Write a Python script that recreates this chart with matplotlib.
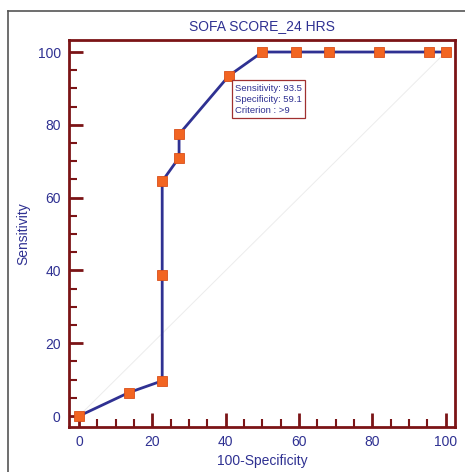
import matplotlib
matplotlib.use("Agg")
import matplotlib.pyplot as plt
from matplotlib.lines import Line2D
from matplotlib.ticker import MultipleLocator

# ROC points (100-Specificity, Sensitivity)
fpr = [0, 13.6, 22.7, 22.7, 22.7, 27.3, 27.3, 40.9, 50.0, 59.1, 68.2, 81.8, 95.5, 100]
sens = [0, 6.45, 9.68, 38.7, 64.5, 71.0, 77.4, 93.5, 100, 100, 100, 100, 100, 100]

title = "SOFA SCORE_24 HRS"
box_text = "Sensitivity: 93.5\nSpecificity: 59.1\nCriterion : >9"

blue = "#2f3192"
red = "#7b1416"
orange = "#f26522"

plt.rcParams['font.family'] = ['Liberation Sans', 'DejaVu Sans']

fig = plt.figure(figsize=(4.65, 4.72), dpi=100)
ax = fig.add_axes([69 / 465, 1 - 427 / 472, 386 / 465, 387 / 472])

# chance line
ax.plot([0, 100], [0, 100], color="#ececec", lw=0.7, zorder=1)
ax.plot(fpr, sens, color=blue, lw=2, marker="s", markersize=6.5,
        markerfacecolor=orange, markeredgecolor="#d9501a", markeredgewidth=0.6, zorder=3)

ax.set_xlim(-2.7, 102.5)
ax.set_ylim(-3.0, 103.3)

for s in ax.spines.values():
    s.set_color(red)
    s.set_linewidth(2)

ax.xaxis.set_major_locator(MultipleLocator(20))
ax.yaxis.set_major_locator(MultipleLocator(20))
ax.xaxis.set_minor_locator(MultipleLocator(5))
ax.yaxis.set_minor_locator(MultipleLocator(5))
ax.tick_params(which="major", direction="in", length=10, width=2, color=red,
               labelcolor=blue, labelsize=10, pad=6)
ax.tick_params(which="minor", direction="in", length=6, width=1.5, color=red)

ax.set_title(title, color=blue, fontsize=10, pad=7)
ax.set_xlabel("100-Specificity", color=blue, fontsize=10, labelpad=3)
ax.set_ylabel("Sensitivity", color=blue, fontsize=10, labelpad=5)

ax.text(42.5, 91.3, box_text, color=blue, fontsize=6.8, va="top", ha="left",
        linespacing=1.3,
        bbox=dict(boxstyle="square,pad=0.35", facecolor="white", edgecolor="#a03030", lw=0.9),
        zorder=4)

# outer frame (top and left edges visible)
fig.add_artist(Line2D([8 / 465, 8 / 465], [0, 1 - 11 / 472], color="#555555", lw=1.2,
                      transform=fig.transFigure))
fig.add_artist(Line2D([8 / 465, 1], [1 - 11 / 472, 1 - 11 / 472], color="#555555", lw=1.2,
                      transform=fig.transFigure))

fig.savefig("out.png", dpi=100)
